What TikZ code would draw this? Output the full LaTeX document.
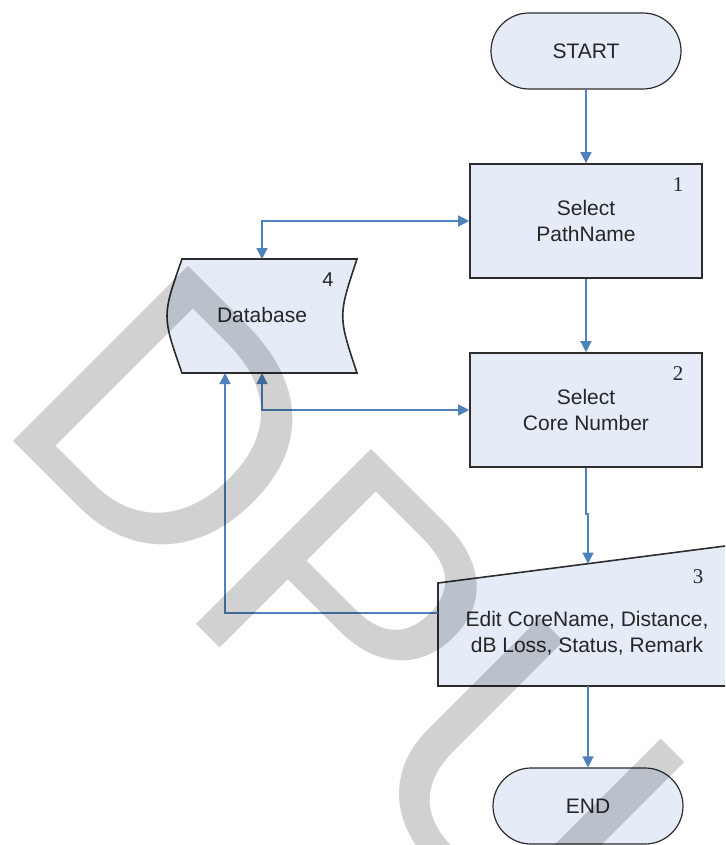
\documentclass[tikz,border=0pt]{standalone}
\usepackage{fontspec}
\setmainfont{Liberation Sans}
\newfontfamily\stepfont{Liberation Serif}
\usepackage{xcolor}
\usepackage{tikz}
\usetikzlibrary{arrows.meta}
\definecolor{flowblue}{RGB}{79,129,189}
\definecolor{boxfill}{RGB}{229,236,248}
\definecolor{boxline}{RGB}{45,45,45}

\begin{document}
\begin{tikzpicture}[x=1pt,y=-1pt,
  >={Triangle[length=11pt,width=11pt]},
  every node/.style={font=\fontsize{21}{26}\selectfont,text=black!85,inner sep=0pt},
  term/.style={draw=boxline,fill=boxfill,line width=1.2pt,rounded corners=38pt,
    minimum width=190pt,minimum height=76pt},
  proc/.style={draw=boxline,fill=boxfill,line width=1.6pt,
    minimum width=232pt,minimum height=114pt,align=center},
  outline/.style={draw=boxline,fill=boxfill,line width=1.6pt},
  stepno/.style={font=\stepfont\fontsize{21}{21}\selectfont},
  flow/.style={draw=flowblue,line width=1.4pt},
  wmark/.style={anchor=base west,rotate=-45,font=\fontsize{360}{360}\selectfont,
    text=black,text opacity=0.18}]
\useasboundingbox (0,0) rectangle (725,845);
\clip (0,0) rectangle (725,845);
\node[term] at (586, 51) (start) {START};
\node[proc] at (586, 221) (sel1) {Select\\PathName};
\node[proc] at (586, 410) (sel2) {Select\\Core Number};
\node[term] at (588, 806) (stop) {END};
\node[stepno] at (678, 185) (no1) {1};
\node[stepno] at (678, 374) (no2) {2};
\draw[outline] (182,259) -- (357,259) .. controls (338,316) .. (357,373)
  -- (182,373) .. controls (162,316) .. (182,259) -- cycle;
\node at (262, 315) (db) {Database};
\node at (328, 280) (no4) {\fontsize{20}{20}\selectfont 4};
\draw[outline] (438,583) -- (760,541.5) -- (760,686) -- (438,686) -- cycle;
\node[align=center] at (587, 633) (edit) {Edit CoreName, Distance,\\dB Loss, Status, Remark};
\node[stepno] at (698, 577) (no3) {3};
\coordinate (dbtop) at (262, 259);
\coordinate (dbbot) at (262, 373);
\coordinate (dbbot2) at (225, 373);
\coordinate (editin) at (588, 563.7);
\coordinate (editbot) at (588, 686);
\coordinate (editleft) at (438, 613);
\draw[flow,->] (start) -- (sel1);
\draw[flow,->] (sel1) -- (sel2);
\draw[flow,->] (sel2.south) -- ++(0,46) -| (editin);
\draw[flow,->] (editbot) -- (stop);
\draw[flow,<->] (sel1.west) -| (dbtop);
\draw[flow,<->] (sel2.west) -| (dbbot);
\draw[flow,->] (editleft) -| (dbbot2);
\node[wmark] at (-8, 420) (wm) {DPU};
\end{tikzpicture}
\end{document}
